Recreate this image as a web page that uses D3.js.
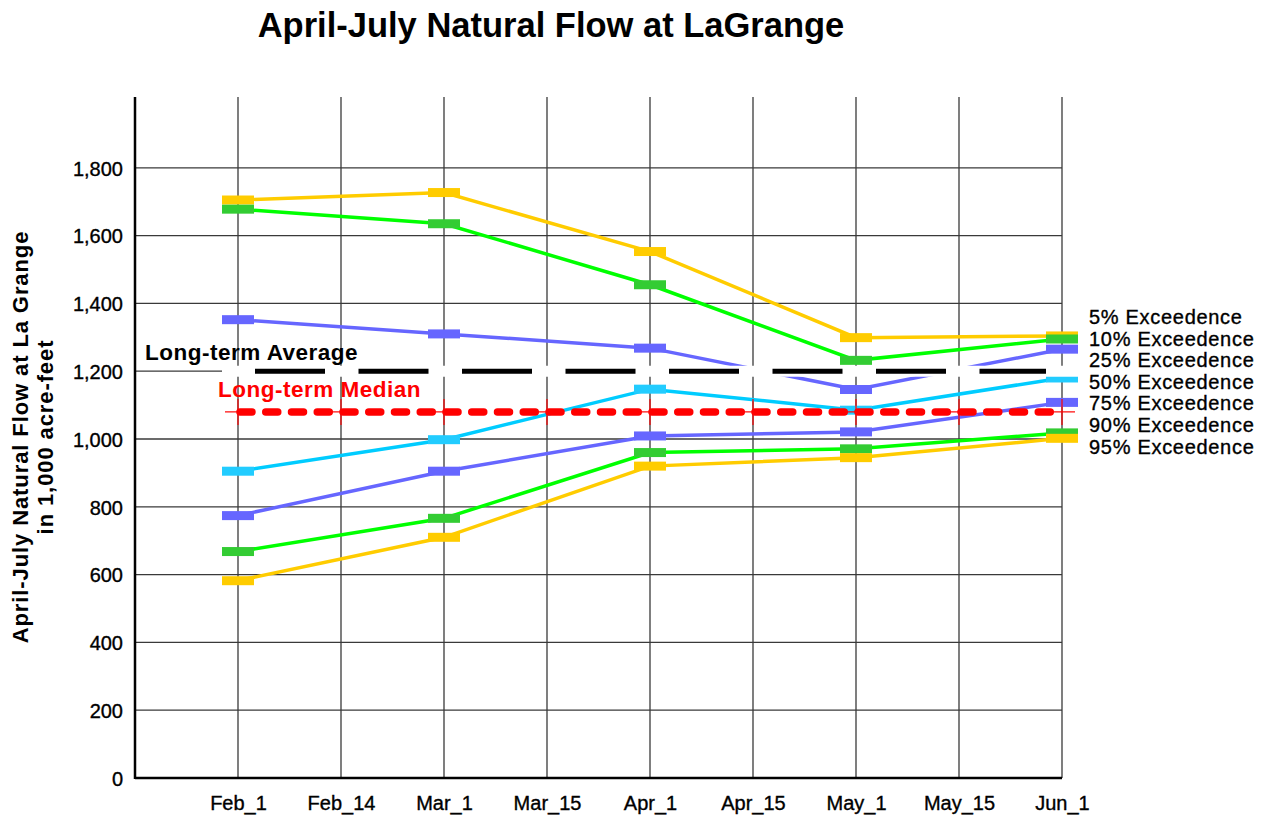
<!DOCTYPE html>
<html>
<head>
<meta charset="utf-8">
<script src="https://cdn.jsdelivr.net/npm/d3@7"></script>
<style>
  body { margin: 0; background: #fff; }
  svg { display: block; font-family: "Liberation Sans", Arial, sans-serif; }
  .soft-bold { stroke: #000; stroke-width: 0.35px; }
</style>
</head>
<body>
<svg></svg>
<script>
const width = 1262;
const height = 815;

// categories on the x axis and the dates that carry a forecast
const categories = ["Feb_1", "Feb_14", "Mar_1", "Mar_15", "Apr_1", "Apr_15", "May_1", "May_15", "Jun_1"];
const forecastDates = ["Feb_1", "Mar_1", "Apr_1", "May_1", "Jun_1"];

// exceedence forecasts, 1,000 acre-feet
const exc5 = [1705, 1727, 1553, 1299, 1304];
const exc10 = [1678, 1635, 1455, 1232, 1295];
const exc25 = [1352, 1310, 1268, 1146, 1265];
const exc50 = [905, 998, 1147, 1085, 1180];
const exc75 = [774, 905, 1009, 1021, 1108];
const exc90 = [668, 766, 960, 971, 1018];
const exc95 = [582, 710, 920, 945, 1002];

const seriesNames = ["5% Exceedence", "10% Exceedence", "25% Exceedence", "50% Exceedence",
  "75% Exceedence", "90% Exceedence", "95% Exceedence"];
const longTermAverage = 1200;
const longTermMedian = 1080;
const yTicks = [0, 200, 400, 600, 800, 1000, 1200, 1400, 1600, 1800];

const margin = { left: 135, right: 1062, top: 100, bottom: 778 };

const svg = d3.select("svg").attr("width", width).attr("height", height);

// index 0 is the y axis, categories sit at 1..9
const xScale = d3.scaleLinear().domain([0, categories.length]).range([margin.left, margin.right]);
const xCat = (c) => xScale(categories.indexOf(c) + 1);
const yScale = d3.scaleLinear().domain([0, 2000]).range([margin.bottom, margin.top]);

const series = [
  { name: seriesNames[0], values: exc5, line: "#ffcc00", marker: "#ffcc00" },
  { name: seriesNames[1], values: exc10, line: "#00ff00", marker: "#33cc33" },
  { name: seriesNames[2], values: exc25, line: "#6666ff", marker: "#6666ff" },
  { name: seriesNames[3], values: exc50, line: "#00ccff", marker: "#22ccff" },
  { name: seriesNames[4], values: exc75, line: "#6666ff", marker: "#6666ff" },
  { name: seriesNames[5], values: exc90, line: "#00ff00", marker: "#33cc33" },
  { name: seriesNames[6], values: exc95, line: "#ffcc00", marker: "#ffcc00" },
];

// title
svg.append("text")
  .attr("x", 551).attr("y", 37)
  .attr("text-anchor", "middle")
  .attr("font-size", 34.5).attr("font-weight", "bold")
  .text("April-July Natural Flow at LaGrange");

// y axis title
const yTitle = svg.append("text")
  .attr("transform", `translate(0, 437) rotate(-90)`)
  .attr("text-anchor", "middle")
  .attr("font-size", 22).attr("font-weight", "bold")
  .attr("letter-spacing", 0.9);
yTitle.append("tspan").attr("x", 0).attr("y", 28).text("April-July Natural Flow at La Grange");
yTitle.append("tspan").attr("x", 0).attr("y", 53).text("in 1,000 acre-feet");

// gridlines
const grid = svg.append("g").attr("stroke", "#3a3a3a").attr("stroke-width", 1.3);
grid.selectAll(".hgrid")
  .data(yTicks.filter((d) => d > 0))
  .enter().append("line")
  .attr("x1", margin.left).attr("x2", margin.right)
  .attr("y1", (d) => yScale(d)).attr("y2", (d) => yScale(d));
grid.selectAll(".vgrid")
  .data(categories)
  .enter().append("line")
  .attr("x1", xCat).attr("x2", xCat)
  .attr("y1", margin.top - 3).attr("y2", margin.bottom);

// axes
const yAxis = d3.axisLeft(yScale).tickValues(yTicks).tickSize(0).tickPadding(12)
  .tickFormat(d3.format(","));
const yAxisG = svg.append("g")
  .attr("transform", `translate(${margin.left}, 0)`)
  .call(yAxis);
yAxisG.select(".domain").remove();
yAxisG.selectAll("text").attr("font-size", 20).attr("font-family", "Liberation Sans, Arial, sans-serif")
  .attr("fill", "#000").attr("dy", "0.36em").attr("class", "soft-bold");

const xAxis = d3.axisBottom(xScale).tickValues(d3.range(1, categories.length + 1))
  .tickSize(0).tickPadding(18).tickFormat((i) => categories[i - 1]);
const xAxisG = svg.append("g")
  .attr("transform", `translate(0, ${margin.bottom})`)
  .call(xAxis);
xAxisG.select(".domain").remove();
xAxisG.selectAll("text").attr("font-size", 20).attr("font-family", "Liberation Sans, Arial, sans-serif")
  .attr("fill", "#000").attr("class", "soft-bold");

svg.append("line")
  .attr("x1", margin.left).attr("x2", margin.left)
  .attr("y1", margin.top - 3).attr("y2", margin.bottom + 1)
  .attr("stroke", "#000").attr("stroke-width", 2.5);
svg.append("line")
  .attr("x1", margin.left).attr("x2", margin.right)
  .attr("y1", margin.bottom).attr("y2", margin.bottom)
  .attr("stroke", "#000").attr("stroke-width", 2.5);

// forecast series
const line = d3.line()
  .x((d) => xCat(d.date))
  .y((d) => yScale(d.value));

series.forEach((s) => {
  const pts = s.values.map((v, i) => ({ date: forecastDates[i], value: v }));
  const g = svg.append("g");
  g.append("path")
    .datum(pts)
    .attr("d", line)
    .attr("fill", "none")
    .attr("stroke", s.line)
    .attr("stroke-width", 3.5);
  g.selectAll("rect")
    .data(pts)
    .enter().append("rect")
    .attr("x", (d) => xCat(d.date) - 16)
    .attr("y", (d) => yScale(d.value) - 4.5)
    .attr("width", 32).attr("height", 9)
    .attr("fill", s.marker);
});

// long-term average: white band with black dashes
const first = categories[0];
const last = categories[categories.length - 1];
svg.append("line")
  .attr("x1", xCat(first) - 16).attr("x2", xCat(last) + 16)
  .attr("y1", yScale(longTermAverage)).attr("y2", yScale(longTermAverage))
  .attr("stroke", "#fff").attr("stroke-width", 11);
svg.append("line")
  .attr("x1", xCat(first) + 17).attr("x2", xCat(last) - 16)
  .attr("y1", yScale(longTermAverage)).attr("y2", yScale(longTermAverage))
  .attr("stroke", "#000").attr("stroke-width", 5)
  .attr("stroke-dasharray", "70,33.5");
svg.append("text")
  .attr("x", 145).attr("y", yScale(longTermAverage) - 11)
  .attr("font-size", 22.5).attr("font-weight", "bold").attr("letter-spacing", 0.5)
  .text("Long-term Average");

// long-term median: red rounded dashes with plus markers
const medG = svg.append("g").attr("stroke", "#ff0000");
medG.selectAll(".plus-h")
  .data(categories)
  .enter().append("line")
  .attr("x1", (d) => xCat(d) - 13).attr("x2", (d) => xCat(d) + 13)
  .attr("y1", yScale(longTermMedian)).attr("y2", yScale(longTermMedian))
  .attr("stroke-width", 1.2);
medG.selectAll(".plus-v")
  .data(categories)
  .enter().append("line")
  .attr("x1", xCat).attr("x2", xCat)
  .attr("y1", yScale(longTermMedian) - 13).attr("y2", yScale(longTermMedian) + 13)
  .attr("stroke-width", 1.2);
medG.append("line")
  .attr("x1", xCat(first) + 2).attr("x2", xCat(last))
  .attr("y1", yScale(longTermMedian)).attr("y2", yScale(longTermMedian))
  .attr("stroke-width", 7.5).attr("stroke-linecap", "round")
  .attr("stroke-dasharray", "12,13.75");
svg.append("text")
  .attr("x", 218).attr("y", yScale(longTermMedian) - 15)
  .attr("font-size", 22.5).attr("font-weight", "bold").attr("letter-spacing", 0.5)
  .attr("fill", "#ff0000")
  .text("Long-term Median");

// series labels on the right
svg.append("g").selectAll("text")
  .data(seriesNames)
  .enter().append("text")
  .attr("x", 1089)
  .attr("y", (d, i) => 324 + i * 21.6)
  .attr("font-size", 20).attr("letter-spacing", 0.7)
  .attr("class", "soft-bold")
  .text((d) => d);
</script>
</body>
</html>
